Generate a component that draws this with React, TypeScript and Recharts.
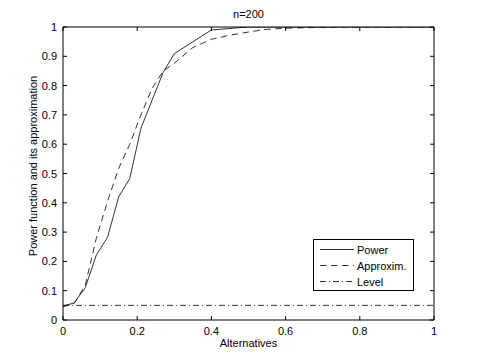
import React from 'react';
import { LineChart, Line, XAxis, YAxis, Legend } from 'recharts';

const powerX = [0, 0.03, 0.06, 0.09, 0.12, 0.15, 0.18, 0.21, 0.24, 0.27, 0.3, 0.4, 0.5, 0.6, 0.7, 0.8, 0.9, 1.0];
const powerY = [0.048, 0.058, 0.11, 0.222, 0.282, 0.42, 0.483, 0.654, 0.75, 0.845, 0.909, 0.99, 1.0, 1.0, 1.0, 1.0, 1.0, 1.0];

const approxX = [0, 0.03, 0.06, 0.09, 0.12, 0.15, 0.18, 0.21, 0.24, 0.27, 0.3, 0.35, 0.4, 0.45, 0.5, 0.55, 0.6, 0.7, 0.8, 0.9, 1.0];
const approxY = [0.045, 0.056, 0.119, 0.28, 0.405, 0.517, 0.6, 0.7, 0.79, 0.85, 0.876, 0.93, 0.958, 0.972, 0.983, 0.992, 0.996, 0.999, 1.0, 1.0, 1.0];

const levelX = [0, 1];
const levelY = [0.05, 0.05];

const xTicks = [0, 0.2, 0.4, 0.6, 0.8, 1];
const yTicks = [0, 0.1, 0.2, 0.3, 0.4, 0.5, 0.6, 0.7, 0.8, 0.9, 1];

const seriesNames = ['Power', 'Approxim.', 'Level'];
const seriesDash = [undefined, '6.5 4.5', '6 3 1 3'];

const powerData = powerX.map((x, i) => ({ x, y: powerY[i] }));
const approxData = approxX.map((x, i) => ({ x, y: approxY[i] }));
const levelData = levelX.map((x, i) => ({ x, y: levelY[i] }));

const FONT = '"Liberation Sans", Arial, Helvetica, sans-serif';
const INK = '#1a1a1a';

const BottomTick = (props: any) => {
  const { x, y, payload } = props;
  return (
    <g>
      <line x1={x} x2={x} y1={y} y2={y - 4} stroke="#000" strokeWidth={1} />
      <text x={x} y={y + 15} textAnchor="middle" fontSize={11} fontFamily={FONT} fill="#000">
        {String(payload.value)}
      </text>
    </g>
  );
};

const TopTick = (props: any) => {
  const { x, y } = props;
  return <line x1={x} x2={x} y1={y} y2={y + 4} stroke="#000" strokeWidth={1} />;
};

const LeftTick = (props: any) => {
  const { x, y, payload } = props;
  return (
    <g>
      <line x1={x} x2={x + 4} y1={y} y2={y} stroke="#000" strokeWidth={1} />
      <text x={x - 6} y={y + 4} textAnchor="end" fontSize={11} fontFamily={FONT} fill="#000">
        {String(payload.value)}
      </text>
    </g>
  );
};

const RightTick = (props: any) => {
  const { x, y } = props;
  return <line x1={x} x2={x - 4} y1={y} y2={y} stroke="#000" strokeWidth={1} />;
};

const LegendBox = () => {
  return (
    <svg width={102} height={53} style={{ display: 'block' }}>
      <rect x={0.5} y={0.5} width={100} height={51} fill="#fff" stroke="#000" strokeWidth={1} />
      {seriesNames.map((name, i) => {
        const ly = 10.5 + i * 16;
        return (
          <g key={name}>
            <line x1={7} x2={41} y1={ly} y2={ly} stroke={INK} strokeWidth={0.9} strokeDasharray={seriesDash[i]} />
            <text x={44} y={ly + 4} fontSize={11} fontFamily={FONT} fill="#000">
              {name}
            </text>
          </g>
        );
      })}
    </svg>
  );
};

export default function App() {
  return (
    <div style={{ position: 'absolute', left: 0, top: 0, width: 480, height: 361, background: '#fff' }}>
      <LineChart width={480} height={361} margin={{ top: 26, right: 45, bottom: 16, left: 23 }}>
        <XAxis
          dataKey="x"
          type="number"
          domain={[0, 1]}
          ticks={xTicks}
          interval={0}
          height={25}
          tickSize={0}
          tickMargin={0}
          tick={<BottomTick />}
          axisLine={{ stroke: '#000', strokeWidth: 1 }}
          allowDataOverflow
          label={() => (
            <text x={248.5} y={347} textAnchor="middle" fontSize={11} fontFamily={FONT} fill="#000">
              Alternatives
            </text>
          )}
        />
        <XAxis
          xAxisId="top"
          dataKey="x"
          type="number"
          orientation="top"
          domain={[0, 1]}
          ticks={xTicks}
          interval={0}
          height={1}
          tickSize={0}
          tickMargin={0}
          tick={<TopTick />}
          axisLine={{ stroke: '#000', strokeWidth: 1 }}
          label={() => (
            <text x={248.5} y={18} textAnchor="middle" fontSize={11} fontFamily={FONT} fill="#000">
              n=200
            </text>
          )}
        />
        <YAxis
          type="number"
          domain={[0, 1]}
          ticks={yTicks}
          interval={0}
          width={40}
          tickSize={0}
          tickMargin={0}
          tick={<LeftTick />}
          axisLine={{ stroke: '#000', strokeWidth: 1 }}
          allowDataOverflow
          label={() => (
            <text
              x={36.5}
              y={166}
              transform="rotate(-90 36.5 166)"
              textAnchor="middle"
              fontSize={11}
              fontFamily={FONT}
              fill="#000"
            >
              Power function and its approximation
            </text>
          )}
        />
        <YAxis
          yAxisId="right"
          orientation="right"
          type="number"
          domain={[0, 1]}
          ticks={yTicks}
          interval={0}
          width={1}
          tickSize={0}
          tickMargin={0}
          tick={<RightTick />}
          axisLine={{ stroke: '#000', strokeWidth: 1 }}
        />
        <Line
          data={powerData}
          dataKey="y"
          name={seriesNames[0]}
          stroke={INK}
          strokeWidth={0.9}
          dot={false}
          activeDot={false}
          isAnimationActive={false}
        />
        <Line
          data={approxData}
          dataKey="y"
          name={seriesNames[1]}
          stroke={INK}
          strokeWidth={0.9}
          strokeDasharray={seriesDash[1]}
          dot={false}
          activeDot={false}
          isAnimationActive={false}
        />
        <Line
          data={levelData}
          dataKey="y"
          name={seriesNames[2]}
          stroke={INK}
          strokeWidth={0.9}
          strokeDasharray={seriesDash[2]}
          dot={false}
          activeDot={false}
          isAnimationActive={false}
        />
        <Line
          data={levelData}
          dataKey="y"
          xAxisId="top"
          yAxisId="right"
          stroke="none"
          legendType="none"
          dot={false}
          activeDot={false}
          isAnimationActive={false}
        />
        <Legend
          layout="horizontal"
          verticalAlign="middle"
          align="center"
          content={<LegendBox />}
          wrapperStyle={{ position: 'absolute', left: 313, top: 239, width: 102, height: 53 }}
        />
      </LineChart>
    </div>
  );
}
